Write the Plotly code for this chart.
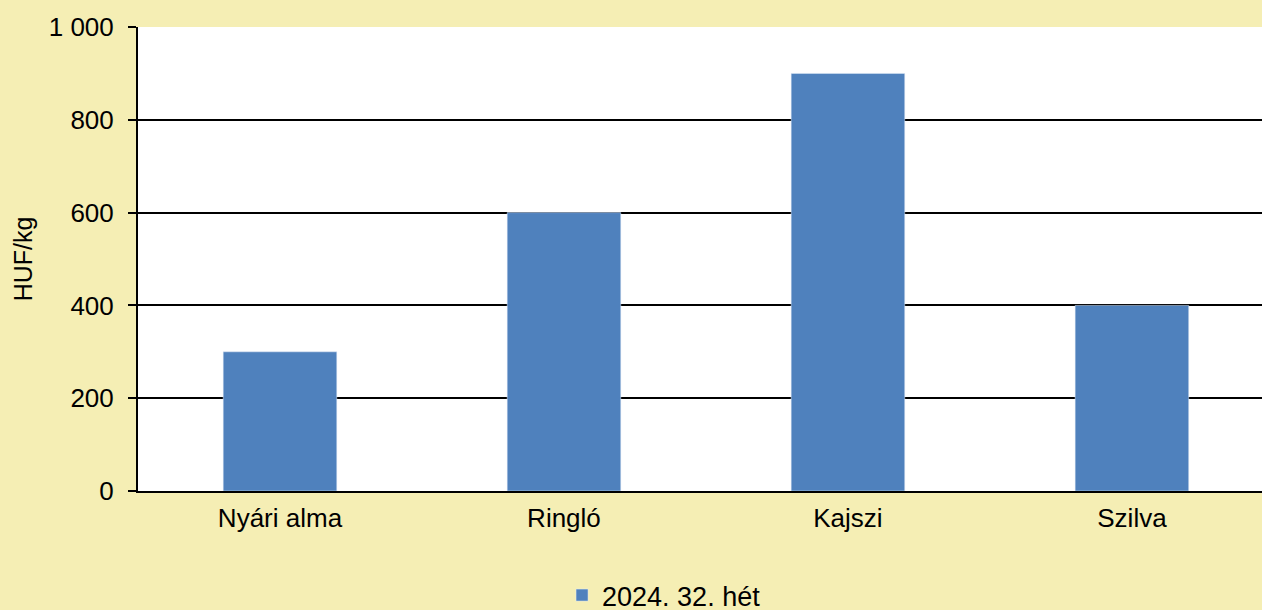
import plotly.graph_objects as go

categories = ["Nyári alma", "Ringló", "Kajszi", "Szilva"]
prices = [300, 600, 900, 400]
series_name = "2024. 32. hét"
y_ticks = [0, 200, 400, 600, 800, 1000]
y_tick_labels = ["0", "200", "400", "600", "800", "1 000"]

BG = "#F5EEB4"
BAR = "#4F81BD"

fig = go.Figure(
    go.Bar(x=categories, y=prices, name=series_name, marker_color=BAR,
           width=0.4, showlegend=True)
)

# legend sits partly below the visible window, like the original export
fig.update_layout(
    width=1262, height=620,
    paper_bgcolor=BG, plot_bgcolor="white",
    margin=dict(l=138, r=0, t=27, b=127),
    font=dict(family="Liberation Sans, Arial, sans-serif", size=26, color="black"),
    legend=dict(orientation="h", x=0.468, xanchor="center", y=-0.2253, yanchor="middle",
                font=dict(size=27), bgcolor="rgba(0,0,0,0)"),
    xaxis=dict(range=[-0.5, 3.458], showline=True, linecolor="black", linewidth=2,
               ticks="", tickfont=dict(size=26), showgrid=False, ticklabelstandoff=3),
    yaxis=dict(range=[0, 1000], tickvals=y_ticks, ticktext=y_tick_labels,
               showline=True, linecolor="black", linewidth=2,
               ticks="outside", ticklen=8, tickwidth=2, tickcolor="black",
               gridcolor="black", gridwidth=2, zeroline=False, ticklabelstandoff=9,
               title=dict(text="HUF/kg", font=dict(size=25), standoff=9)),
    bargap=0.6,
)

fig.write_html(
    "out.html",
    config={"displayModeBar": False},
    post_script="document.body.style.margin='0';document.body.style.overflow='hidden';",
)
